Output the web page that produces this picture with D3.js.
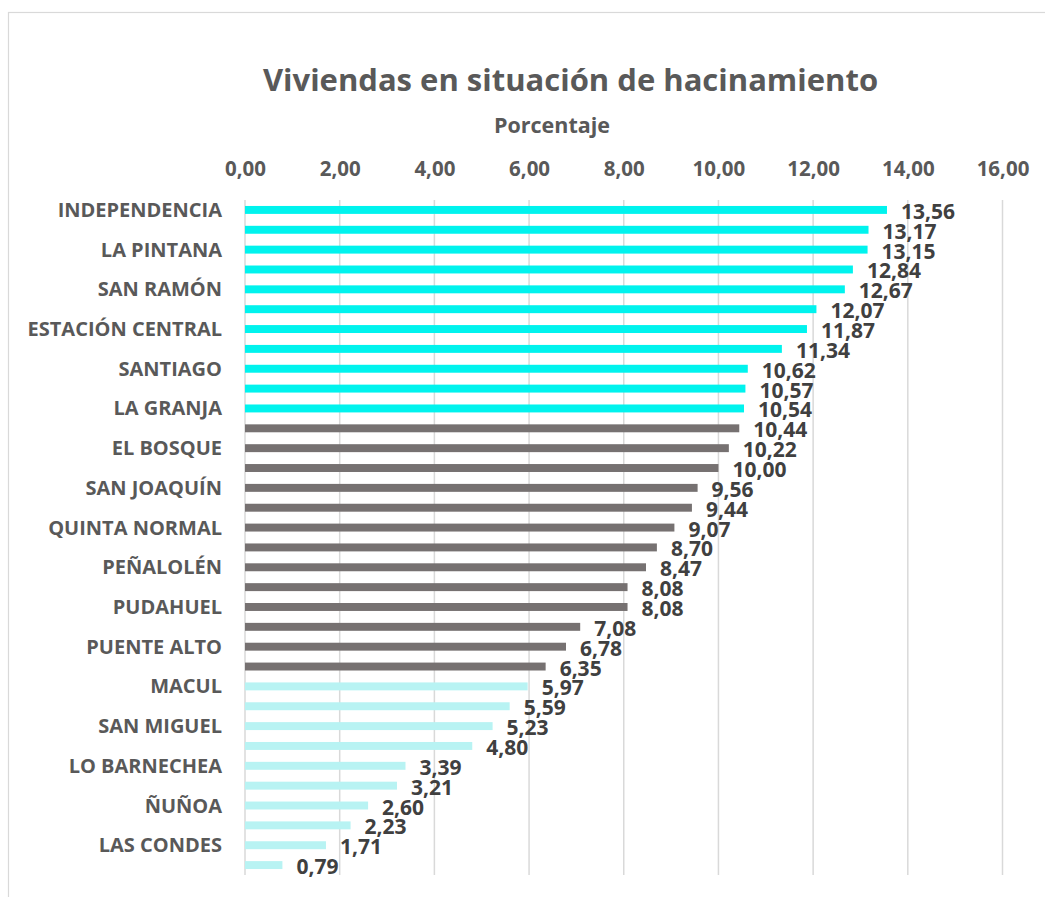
<!DOCTYPE html>
<html>
<head>
<meta charset="utf-8">
<script src="https://cdn.jsdelivr.net/npm/d3@7"></script>
<style>
  html, body { margin: 0; padding: 0; background: #ffffff; }
  svg { display: block; font-family: "Open Sans", "Noto Sans", sans-serif; font-weight: bold; }
</style>
</head>
<body>
<svg id="chart" width="1045" height="897"></svg>
<script>
// ---- Data ----
const communes = [
  "INDEPENDENCIA", "RECOLETA", "LA PINTANA", "LO ESPEJO", "SAN RAMÓN", "CERRO NAVIA",
  "ESTACIÓN CENTRAL", "PEDRO AGUIRRE CERDA", "SANTIAGO", "RENCA", "LA GRANJA", "LO PRADO",
  "EL BOSQUE", "CONCHALÍ", "SAN JOAQUÍN", "HUECHURABA", "QUINTA NORMAL", "SAN BERNARDO",
  "PEÑALOLÉN", "CERRILLOS", "PUDAHUEL", "QUILICURA", "PUENTE ALTO", "LA FLORIDA",
  "MACUL", "LA CISTERNA", "SAN MIGUEL", "MAIPÚ", "LO BARNECHEA", "PROVIDENCIA",
  "ÑUÑOA", "LA REINA", "LAS CONDES", "VITACURA"
];
const values = [
  13.56, 13.17, 13.15, 12.84, 12.67, 12.07, 11.87, 11.34, 10.62, 10.57, 10.54,
  10.44, 10.22, 10.00, 9.56, 9.44, 9.07, 8.70, 8.47, 8.08, 8.08, 7.08, 6.78, 6.35,
  5.97, 5.59, 5.23, 4.80, 3.39, 3.21, 2.60, 2.23, 1.71, 0.79
];
// group of each bar: 0 = alto, 1 = medio, 2 = bajo
const groups = [
  0,0,0,0,0,0,0,0,0,0,0,
  1,1,1,1,1,1,1,1,1,1,1,1,1,
  2,2,2,2,2,2,2,2,2,2
];
const xTicks = [0, 2, 4, 6, 8, 10, 12, 14, 16];
const titleText = "Viviendas en situación de hacinamiento";
const axisTitle = "Porcentaje";

// ---- Styles ----
const groupColors = ["#00F3EE", "#767171", "#B8F3F3"];
const textGray = "#595959";
const valueGray = "#404040";
const gridGray = "#D9D9D9";

const svg = d3.select("#chart");

// chart border
svg.append("rect")
  .attr("x", 8.5).attr("y", 12.5)
  .attr("width", 1200).attr("height", 1000)
  .attr("fill", "none").attr("stroke", gridGray).attr("stroke-width", 1.2);

const x = d3.scaleLinear().domain([0, 16]).range([245, 1002.5]);
const y = d3.scaleBand().domain(d3.range(communes.length)).range([200, 875]).paddingInner(0.6).paddingOuter(0.3);

const fmt = v => d3.format(".2f")(v).replace(".", ",");

// gridlines
svg.append("g").selectAll("line").data(xTicks).join("line")
  .attr("x1", d => x(d)).attr("x2", d => x(d))
  .attr("y1", 200).attr("y2", 875)
  .attr("stroke", gridGray).attr("stroke-width", 1.5);

// top axis tick labels
const xAxis = d3.axisTop(x).tickValues(xTicks).tickFormat(fmt).tickSize(0).tickPadding(0);
const gx = svg.append("g").attr("transform", "translate(0,176)").call(xAxis);
gx.select(".domain").remove();
gx.selectAll("text")
  .attr("fill", textGray)
  .style("font-size", "20.5px")
  .style("font-family", "'Open Sans', sans-serif")
  .style("font-weight", "bold")
  .attr("dy", 0);

// bars
svg.append("g").selectAll("rect").data(values).join("rect")
  .attr("x", x(0))
  .attr("y", (d, i) => y(i))
  .attr("width", d => x(d) - x(0))
  .attr("height", y.bandwidth())
  .attr("fill", (d, i) => groupColors[groups[i]]);

// value labels
svg.append("g").selectAll("text").data(values).join("text")
  .attr("x", d => x(d) + 14)
  .attr("y", (d, i) => y(i) + y.bandwidth() / 2 + 9)
  .attr("fill", valueGray)
  .style("font-size", "21px")
  .text(d => fmt(d));

// category labels (every other shown)
const yAxis = d3.axisLeft(y).tickSize(0).tickPadding(0)
  .tickFormat((d, i) => i % 2 === 0 ? communes[d] : "");
const gy = svg.append("g").attr("transform", "translate(222,0)").call(yAxis);
gy.select(".domain").remove();
gy.selectAll("text")
  .attr("fill", textGray)
  .style("font-size", "20px")
  .style("font-family", "'Open Sans', sans-serif")
  .style("font-weight", "bold")
  .attr("dy", 7);
gy.selectAll(".tick").filter((d, i) => i % 2 !== 0).remove();

// titles
svg.append("text")
  .attr("x", 570.5).attr("y", 91)
  .attr("text-anchor", "middle")
  .attr("fill", textGray)
  .style("font-size", "31px")
  .text(titleText);

svg.append("text")
  .attr("x", 552).attr("y", 133)
  .attr("text-anchor", "middle")
  .attr("fill", textGray)
  .style("font-size", "21.5px")
  .text(axisTitle);
</script>
</body>
</html>
